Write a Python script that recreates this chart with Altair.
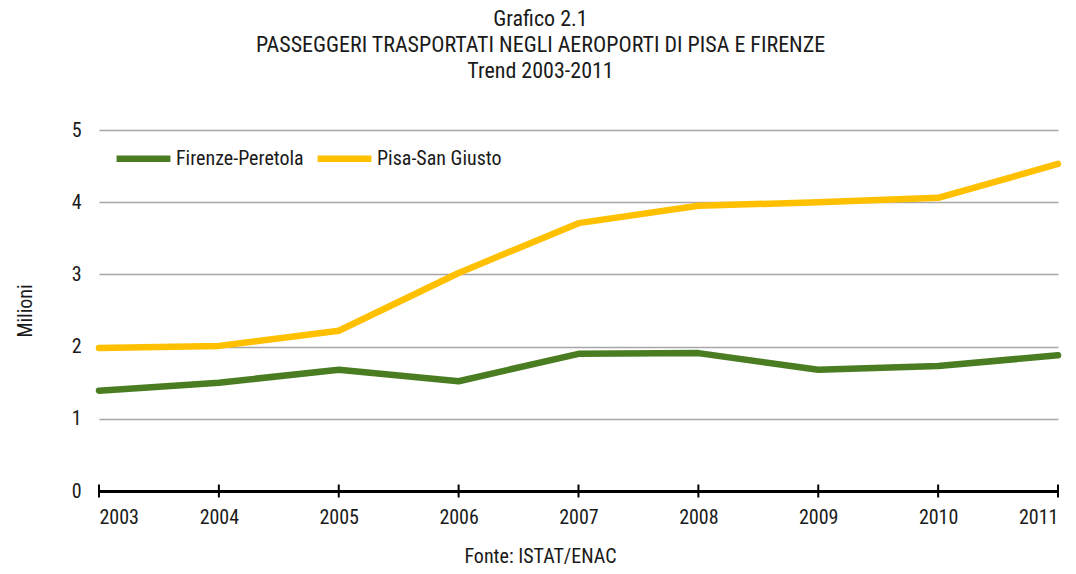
import altair as alt
import pandas as pd

years = [2003, 2004, 2005, 2006, 2007, 2008, 2009, 2010, 2011]
firenze = [1.39, 1.50, 1.68, 1.52, 1.90, 1.91, 1.68, 1.73, 1.88]
pisa = [1.98, 2.01, 2.22, 3.02, 3.71, 3.95, 4.00, 4.06, 4.53]
series_names = ["Firenze-Peretola", "Pisa-San Giusto"]
series_colors = ["#4a7d22", "#ffc000"]
title_lines = ["Grafico 2.1", "PASSEGGERI TRASPORTATI NEGLI AEROPORTI DI PISA E FIRENZE", "Trend 2003-2011"]
source_text = "Fonte: ISTAT/ENAC"
y_ticks = [0, 1, 2, 3, 4, 5]

rows = []
for name, vals in zip(series_names, [firenze, pisa]):
    for yr, v in zip(years, vals):
        rows.append({"anno": yr, "serie": name, "valore": v})
df = pd.DataFrame(rows)
ticks_df = pd.DataFrame({"anno": years})

FONT = "'Liberation Sans Narrow', 'Arial Narrow', 'Roboto Condensed', 'DejaVu Sans Condensed', sans-serif"
FS = 20
TXT = "#1a1a1a"
W, H = 959, 361

x_scale = alt.Scale(domain=[years[0], years[-1]], nice=False)
y_scale = alt.Scale(domain=[0, 5], nice=False)

lines = alt.Chart(df).mark_line(strokeWidth=6.5, strokeCap="round", strokeJoin="round", clip=False).encode(
    x=alt.X("anno:Q", scale=x_scale,
            axis=alt.Axis(values=years, format="d", ticks=False, grid=False,
                          domainColor="black", domainWidth=3,
                          labelFontSize=FS, labelFont=FONT, labelColor=TXT, labelPadding=16,
                          labelFontWeight="normal",
                          title=source_text, titleFont=FONT, titleFontSize=FS, titleFontWeight="normal",
                          titleColor=TXT, titleX=441, titleY=71, titleBaseline="alphabetic")),
    y=alt.Y("valore:Q", scale=y_scale,
            axis=alt.Axis(values=y_ticks, format="d", ticks=False, domain=False, grid=True,
                          gridColor="#a6a6a6", gridWidth=1.5,
                          labelFontSize=FS, labelFont=FONT, labelColor=TXT, labelPadding=18,
                          labelFontWeight="normal",
                          title="Milioni", titleFont=FONT, titleFontSize=FS, titleFontWeight="normal",
                          titleColor=TXT, titlePadding=36)),
    color=alt.Color("serie:N", scale=alt.Scale(domain=series_names, range=series_colors),
                    legend=alt.Legend(title=None, orient="none", legendX=14, legendY=-2,
                                      direction="horizontal", symbolType="stroke",
                                      symbolSize=2900, symbolStrokeWidth=6.5,
                                      labelFont=FONT, labelFontSize=FS, labelColor=TXT,
                                      labelOffset=2, columnPadding=0)),
)

tick_rules = alt.Chart(ticks_df).mark_rule(color="black", strokeWidth=2).encode(
    x=alt.X("anno:Q", scale=x_scale),
    y=alt.datum(-0.09),
    y2=alt.datum(0.09),
)

chart = alt.layer(lines, tick_rules).properties(
    width=W, height=H,
    padding={"left": 91, "top": 122, "right": 10, "bottom": 75},
    autosize=alt.AutoSizeParams(type="none"),
    title=alt.TitleParams(text=title_lines, font=FONT, fontSize=22, fontWeight="normal",
                          color=TXT, anchor="middle", dx=-38, offset=37, lineHeight=26),
).configure_view(stroke=None)

chart.save("out.html", embed_options={"renderer": "svg", "actions": False})
